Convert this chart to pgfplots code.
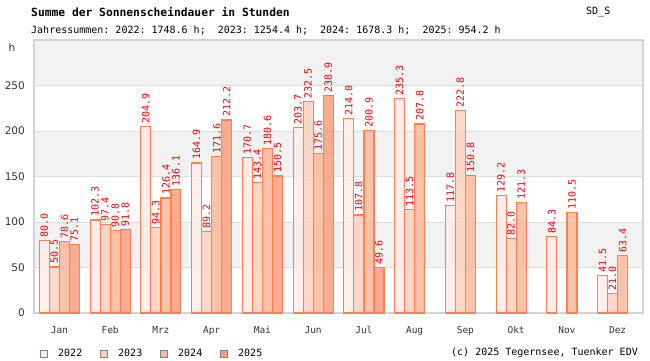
\documentclass[border=0pt]{standalone}
\usepackage{pgfplots}
\pgfplotsset{compat=1.18}
\usepackage{fontspec}
\setmainfont{DejaVu Sans}
\setmonofont{DejaVu Sans Mono}
\definecolor{c22}{HTML}{FFECE6}
\definecolor{c23}{HTML}{FDD0BE}
\definecolor{c24}{HTML}{FCB89C}
\definecolor{c25}{HTML}{FB9F7E}
\definecolor{edgec}{HTML}{FF7F50}
\definecolor{gridc}{HTML}{DDDDDD}
\definecolor{bandc}{HTML}{F2F2F2}
\definecolor{framec}{HTML}{D4D4D4}
\definecolor{tickc}{HTML}{333333}
\definecolor{legc}{HTML}{808080}
\begin{document}
\begin{tikzpicture}
\useasboundingbox (0pt,0pt) rectangle (650pt,360pt);
\fill[bandc] (34pt,92.5pt) rectangle (643pt,138pt);
\fill[bandc] (34pt,183.5pt) rectangle (643pt,229pt);
\fill[bandc] (34pt,274.5pt) rectangle (643pt,320pt);
\node[anchor=west, inner sep=0pt, font=\ttfamily\bfseries\fontsize{11.3}{12}\selectfont] at (31pt,348pt) {Summe der Sonnenscheindauer in Stunden};
\node[anchor=west, inner sep=0pt, font=\ttfamily\fontsize{10}{12}\selectfont] at (586pt,348pt) {SD\_S};
\node[anchor=west, inner sep=0pt, font=\ttfamily\fontsize{10}{12}\selectfont] at (31pt,330pt) {Jahressummen: 2022: 1748.6 h;\ \ 2023: 1254.4 h;\ \ 2024: 1678.3 h;\ \ 2025: 954.2 h};
\node[inner sep=0pt, font=\fontsize{10.5}{12}\selectfont, text=tickc] at (12pt,312pt) {h};
\begin{axis}[at={(34pt,47pt)}, anchor=south west, scale only axis,
  width=609pt, height=273pt,
  xmin=-0.5, xmax=11.5, ymin=0, ymax=300,
  ytick={0,50,...,250},
  xtick={0,...,11},
  xticklabels={Jan,Feb,Mrz,Apr,Mai,Jun,Jul,Aug,Sep,Okt,Nov,Dez},
  major tick length=0pt,
  ymajorgrids, grid style={draw=gridc, line width=1pt},
  axis line style={draw=framec, line width=1.2pt},
  yticklabel style={font=\fontsize{10.5}{12}\selectfont, text=tickc, inner sep=0pt, xshift=-9pt},
  xticklabel style={font=\ttfamily\fontsize{9.5}{11}\selectfont, text=tickc, inner sep=0pt, yshift=-13pt},
  /pgf/number format/assume math mode=true,
  ybar, bar width=0.197,
  every axis plot/.append style={draw=edgec, line width=1.2pt, fill opacity=0.85},
  nodes near coords={\pgfmathprintnumber[fixed,fixed zerofill,precision=1,assume math mode=true]{\pgfplotspointmeta}},
  nodes near coords style={rotate=90, anchor=west, inner xsep=2.5pt, inner ysep=0pt, font=\ttfamily\fontsize{10}{10}\selectfont, text=red, text opacity=1},
]
\addplot[fill=c22, bar shift=-0.296] coordinates {(0,80.0) (1,102.3) (2,204.9) (3,164.9) (4,170.7) (5,203.7) (6,214.0) (7,235.3) (8,117.8) (9,129.2) (10,84.3) (11,41.5)};
\addplot[fill=c23, bar shift=-0.099] coordinates {(0,50.5) (1,97.4) (2,94.3) (3,89.2) (4,143.4) (5,232.5) (6,107.8) (7,113.5) (8,222.8) (9,82.0) (11,21.0)};
\addplot[fill=c24, bar shift=0.099] coordinates {(0,78.6) (1,90.8) (2,126.4) (3,171.6) (4,180.6) (5,175.6) (6,200.9) (7,207.8) (8,150.8) (9,121.3) (10,110.5) (11,63.4)};
\addplot[fill=c25, bar shift=0.296] coordinates {(0,75.1) (1,91.8) (2,136.1) (3,212.2) (4,150.5) (5,238.9) (6,49.6)};
\end{axis}
\foreach \x/\c/\t in {44/c22/2022, 104/c23/2023, 164/c24/2024, 224/c25/2025} {
  \draw[draw=legc, line width=1pt, fill=\c] (\x pt-3.5pt,2.5pt) rectangle (\x pt+3.5pt,9.5pt);
  \node[anchor=west, inner sep=0pt, font=\ttfamily\fontsize{10}{12}\selectfont] at (\x pt+14pt,7pt) {\t};
}
\node[anchor=east, inner sep=0pt, font=\ttfamily\fontsize{10}{12}\selectfont] at (638pt,7pt) {(c) 2025 Tegernsee, Tuenker EDV};
\end{tikzpicture}
\end{document}
